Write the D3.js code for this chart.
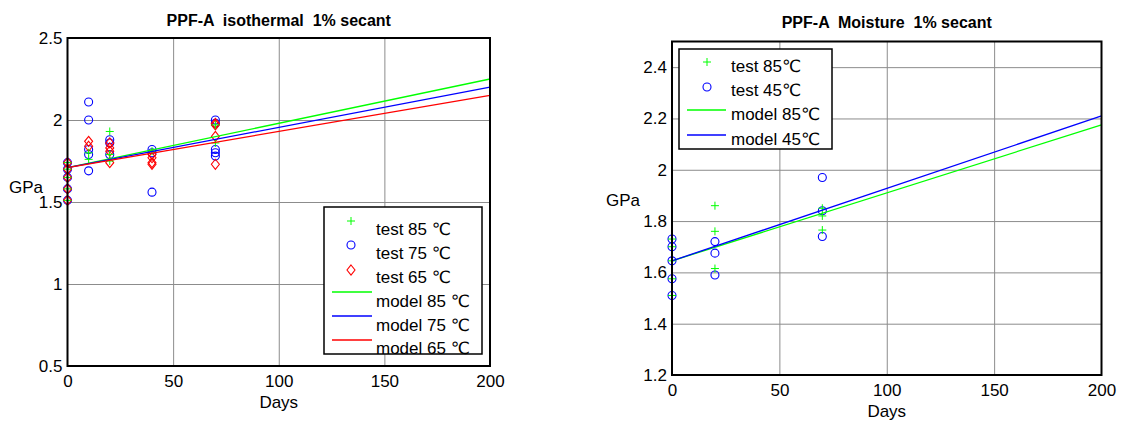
<!DOCTYPE html>
<html>
<head>
<meta charset="utf-8">
<script src="https://cdn.jsdelivr.net/npm/d3@7"></script>
<style>
  body { margin: 0; background: #fff; }
  svg { display: block; font-family: "Liberation Sans", Arial, sans-serif; }
  .grid line { stroke: #8c8c8c; stroke-width: 1; }
  .grid .domain { display: none; }
  .lbl .domain, .lbl line { display: none; }
  .lbl text { font-size: 17px; fill: #000; font-family: "Liberation Sans", Arial, sans-serif; }
</style>
</head>
<body>
<svg id="chart" width="1123" height="421"></svg>
<script>
// ---- data: left panel (isothermal) ----
var days85L = [0,0,0,0,0, 10,10, 20,20,20, 40, 70,70];
var gpa85L  = [1.74,1.70,1.65,1.58,1.51, 1.80,1.76, 1.93,1.79,1.75, 1.81, 1.97,1.86];
var days75L = [0,0,0,0,0, 10,10,10,10,10, 20,20,20, 40,40,40, 70,70,70,70,70];
var gpa75L  = [1.74,1.70,1.65,1.58,1.51, 2.11,2.00,1.82,1.79,1.69, 1.88,1.86,1.79, 1.82,1.80,1.56, 2.00,1.98,1.82,1.80,1.78];
var days65L = [0,0,0,0,0, 10,10, 20,20,20,20, 40,40,40,40, 70,70,70,70];
var gpa65L  = [1.74,1.70,1.65,1.58,1.51, 1.87,1.84, 1.86,1.83,1.81,1.74, 1.79,1.77,1.74,1.73, 1.98,1.97,1.90,1.73];
var modelDays = [0, 200];
var model85L = [1.71, 2.25];
var model75L = [1.71, 2.20];
var model65L = [1.71, 2.15];

// ---- data: right panel (moisture) ----
var days85R = [0,0,0,0,0, 20,20,20, 70,70,70];
var gpa85R  = [1.73,1.70,1.645,1.575,1.51, 1.86,1.76,1.615, 1.85,1.82,1.765];
var days45R = [0,0,0,0,0, 20,20,20, 70,70,70];
var gpa45R  = [1.73,1.70,1.645,1.575,1.51, 1.72,1.675,1.59, 1.97,1.84,1.74];
var model85R = [1.645, 2.175];
var model45R = [1.645, 2.21];

var xTicks = [0, 50, 100, 150, 200];
var yTicksL = [0.5, 1, 1.5, 2, 2.5];
var yTicksR = [1.2, 1.4, 1.6, 1.8, 2, 2.2, 2.4];

var GREEN = '#00ff00', BLUE = '#0000ff', RED = '#ff0000';

var svg = d3.select('#chart');

function zip(a, b){ return a.map(function(d, i){ return [d, b[i]]; }); }

function drawMarker(g, type, cx, cy, color){
  if(type === 'plus'){
    g.append('path').attr('d', 'M' + (cx-4) + ',' + cy + 'H' + (cx+4) + 'M' + cx + ',' + (cy-4) + 'V' + (cy+4))
      .attr('stroke', color).attr('stroke-width', 1).attr('fill', 'none');
  } else if(type === 'circle'){
    g.append('circle').attr('cx', cx).attr('cy', cy).attr('r', 4)
      .attr('stroke', color).attr('stroke-width', 1.1).attr('fill', 'none');
  } else {
    g.append('path').attr('d', 'M' + cx + ',' + (cy-5) + 'L' + (cx+4) + ',' + cy + 'L' + cx + ',' + (cy+5) + 'L' + (cx-4) + ',' + cy + 'Z')
      .attr('stroke', color).attr('stroke-width', 1.1).attr('fill', 'none');
  }
}

// degree sign drawn from DejaVu so the line box stays small
function degText(sel, label){
  var parts = label.split('℃');
  sel.append('tspan').text(parts[0]);
  if(parts.length > 1){
    sel.append('tspan').attr('font-family', '"DejaVu Sans", sans-serif').text('℃');
  }
}

function panel(opt){
  var x = d3.scaleLinear().domain([0, 200]).range([opt.left, opt.right]);
  var y = d3.scaleLinear().domain(opt.yDomain).range([opt.bottom, opt.top]);
  var g = svg.append('g');

  // grid
  g.append('g').attr('class', 'grid')
    .attr('transform', 'translate(0,' + opt.bottom + ')')
    .call(d3.axisBottom(x).tickValues(xTicks.slice(1, -1)).tickSize(-(opt.bottom - opt.top)).tickFormat(''));
  g.append('g').attr('class', 'grid')
    .attr('transform', 'translate(' + opt.left + ',0)')
    .call(d3.axisLeft(y).tickValues(opt.yTicks.filter(function(t){ return t > opt.yDomain[0] && t < opt.yDomain[1]; }))
      .tickSize(-(opt.right - opt.left)).tickFormat(''));

  // tick labels
  g.append('g').attr('class', 'lbl')
    .attr('transform', 'translate(0,' + opt.bottom + ')')
    .call(d3.axisBottom(x).tickValues(xTicks).tickSize(0).tickPadding(9).tickFormat(String));
  g.append('g').attr('class', 'lbl')
    .attr('transform', 'translate(' + (opt.left - 5) + ',0)')
    .call(d3.axisLeft(y).tickValues(opt.yTicks).tickSize(0).tickPadding(0).tickFormat(String));

  // points
  var pts = g.append('g');
  opt.points.forEach(function(s){
    zip(s.days, s.vals).forEach(function(p){
      drawMarker(pts, s.type, x(p[0]), y(p[1]), s.color);
    });
  });

  // model lines
  var line = d3.line().x(function(d){ return x(d[0]); }).y(function(d){ return y(d[1]); });
  opt.models.forEach(function(m){
    g.append('path').datum(zip(modelDays, m.vals)).attr('d', line)
      .attr('stroke', m.color).attr('stroke-width', 1.3).attr('fill', 'none');
  });

  // frame
  g.append('rect').attr('x', opt.left).attr('y', opt.top)
    .attr('width', opt.right - opt.left).attr('height', opt.bottom - opt.top)
    .attr('fill', 'none').attr('stroke', '#000').attr('stroke-width', 2);

  // titles
  g.append('text').attr('x', (opt.left + opt.right) / 2).attr('y', opt.titleY)
    .attr('text-anchor', 'middle').attr('font-weight', 'bold').attr('font-size', 16)
    .style('white-space', 'pre').text(opt.title);
  g.append('text').attr('x', (opt.left + opt.right) / 2).attr('y', opt.daysY)
    .attr('text-anchor', 'middle').attr('font-size', 17).text('Days');
  g.append('text').attr('x', opt.gpaX).attr('y', opt.gpaY)
    .attr('font-size', 17).text('GPa');

  // legend
  var lg = opt.legend;
  var leg = g.append('g');
  leg.append('rect').attr('x', lg.x0).attr('y', lg.y0)
    .attr('width', lg.x1 - lg.x0).attr('height', lg.y1 - lg.y0)
    .attr('fill', '#fff').attr('stroke', '#000').attr('stroke-width', 1.5);
  lg.items.forEach(function(it){
    if(it.line){
      leg.append('line').attr('x1', lg.lineX0).attr('x2', lg.lineX1)
        .attr('y1', it.my).attr('y2', it.my)
        .attr('stroke', it.color).attr('stroke-width', 1.3);
    } else {
      drawMarker(leg, it.type, lg.markX, it.my, it.color);
    }
    var t = leg.append('text').attr('x', lg.textX).attr('y', it.ty)
      .attr('font-size', 17).style('white-space', 'pre');
    degText(t, it.label);
  });
}

panel({
  left: 67.5, right: 490, top: 38, bottom: 366,
  yDomain: [0.5, 2.5], yTicks: yTicksL,
  title: 'PPF-A  isothermal  1% secant', titleY: 26,
  daysY: 408, gpaX: 9, gpaY: 193,
  points: [
    {days: days75L, vals: gpa75L, type: 'circle', color: BLUE},
    {days: days65L, vals: gpa65L, type: 'diamond', color: RED},
    {days: days85L, vals: gpa85L, type: 'plus', color: GREEN}
  ],
  models: [
    {vals: model85L, color: GREEN},
    {vals: model75L, color: BLUE},
    {vals: model65L, color: RED}
  ],
  legend: {
    x0: 324, x1: 482, y0: 207, y1: 354,
    markX: 351, lineX0: 332, lineX1: 372, textX: 376,
    items: [
      {label: 'test 85 ℃', type: 'plus', color: GREEN, my: 221, ty: 235},
      {label: 'test 75 ℃', type: 'circle', color: BLUE, my: 245, ty: 258.5},
      {label: 'test 65 ℃', type: 'diamond', color: RED, my: 270, ty: 282.5},
      {label: 'model 85 ℃', line: true, color: GREEN, my: 292, ty: 306.5},
      {label: 'model 75 ℃', line: true, color: BLUE, my: 316, ty: 330.5},
      {label: 'model 65 ℃', line: true, color: RED, my: 340, ty: 353.5}
    ]
  }
});

panel({
  left: 672, right: 1101.5, top: 41.5, bottom: 375,
  yDomain: [1.2, 2.5], yTicks: yTicksR,
  title: 'PPF-A  Moisture  1% secant', titleY: 28,
  daysY: 417, gpaX: 606, gpaY: 206,
  points: [
    {days: days45R, vals: gpa45R, type: 'circle', color: BLUE},
    {days: days85R, vals: gpa85R, type: 'plus', color: GREEN}
  ],
  models: [
    {vals: model85R, color: GREEN},
    {vals: model45R, color: BLUE}
  ],
  legend: {
    x0: 679, x1: 832, y0: 49, y1: 149,
    markX: 707, lineX0: 687, lineX1: 726, textX: 731,
    items: [
      {label: 'test 85℃', type: 'plus', color: GREEN, my: 62, ty: 72},
      {label: 'test 45℃', type: 'circle', color: BLUE, my: 87, ty: 96},
      {label: 'model 85℃', line: true, color: GREEN, my: 110, ty: 120},
      {label: 'model 45℃', line: true, color: BLUE, my: 135, ty: 144.5}
    ]
  }
});
</script>
</body>
</html>
